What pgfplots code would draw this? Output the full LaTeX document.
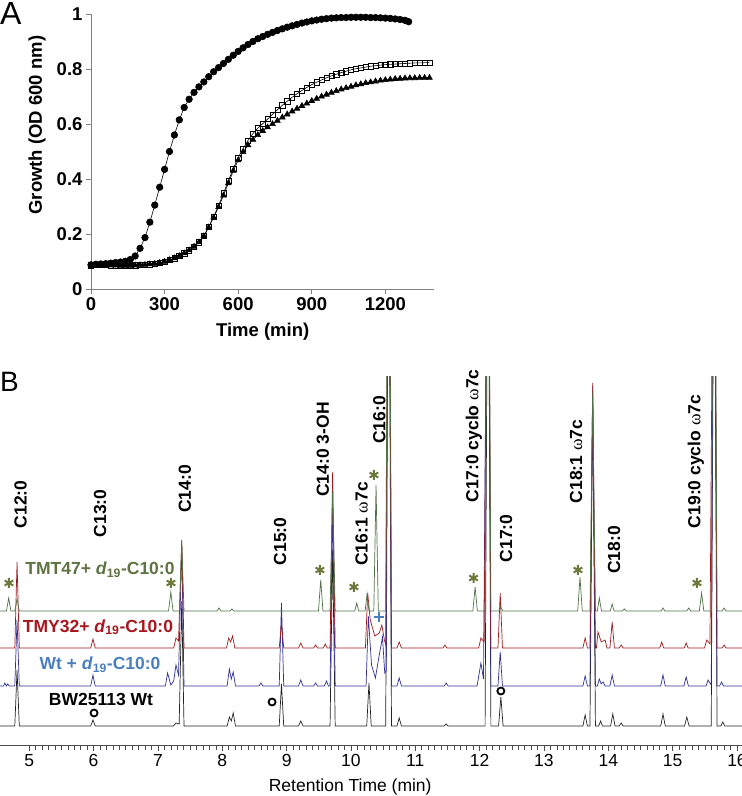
\documentclass[border=0pt]{standalone}
\usepackage{fontspec}
\setmainfont{Liberation Sans}
\newfontfamily\serifgr{Liberation Serif}
\usepackage{pgfplots}
\pgfplotsset{compat=1.18}
\definecolor{gtrace}{RGB}{80,112,70}
\definecolor{rtrace}{RGB}{158,28,32}
\definecolor{btrace}{RGB}{48,48,150}
\definecolor{ktrace}{RGB}{35,35,35}
\definecolor{glab}{RGB}{95,115,67}
\definecolor{rlab}{RGB}{168,22,30}
\definecolor{blab}{RGB}{74,126,191}
\definecolor{star}{RGB}{107,122,58}
\definecolor{axgray}{RGB}{128,128,128}
\newcommand{\om}{{\serifgr\mdseries ω}}
\newcommand{\lbl}{\bfseries\fontsize{17.5}{19}\selectfont}
\begin{document}
\begin{tikzpicture}
\useasboundingbox (0pt,0pt) rectangle (742pt,796pt);
\node[anchor=base west, inner sep=0pt, font=\fontsize{32}{32}\selectfont] at (0pt,771pt) {A};
\node[anchor=base west, inner sep=0pt, font=\fontsize{28}{28}\selectfont] at (0pt,404pt) {B};

\begin{axis}[at={(91pt,507pt)}, anchor=south west, scale only axis,
  width=343.4pt, height=275pt, xmin=0, xmax=1400, ymin=0, ymax=1,
  axis x line=bottom, axis y line=left,
  axis line style={-, axgray, line width=0.8pt},
  tick style={axgray, line width=0.8pt}, tick align=outside, major tick length=5pt,
  xtick={0,300,600,900,1200}, ytick={0,0.2,0.4,0.6,0.8,1},
  /pgf/number format/1000 sep={},
  /pgf/number format/assume math mode=true,
  ticklabel style={font=\bfseries\fontsize{18.5}{20}\selectfont},
  xlabel={Time (min)}, ylabel={Growth (OD 600 nm)},
  label style={font=\bfseries\fontsize{18.5}{20}\selectfont},
  xlabel style={at={(axis description cs:0.5,-0.156)}, anchor=center},
  ylabel style={at={(axis description cs:-0.157,0.596)}, anchor=center},
  clip=false]
\addplot[black, line width=0.6pt, mark=square, mark size=2.6pt, mark options={line width=0.5pt, fill=white}] coordinates {
(0,0.086)(20,0.087)(40,0.087)(60,0.087)(80,0.086)(100,0.086)(120,0.085)(140,0.085)(160,0.085)(180,0.086)(200,0.087)(220,0.088)(240,0.090)(260,0.092)(280,0.095)(300,0.099)(320,0.105)(340,0.112)(360,0.120)(380,0.130)(400,0.141)(420,0.154)(440,0.170)(460,0.193)(480,0.226)(500,0.263)(520,0.303)(540,0.348)(560,0.393)(580,0.438)(600,0.478)(620,0.510)(640,0.540)(660,0.565)(680,0.585)(700,0.601)(720,0.618)(740,0.635)(760,0.652)(780,0.668)(800,0.683)(820,0.697)(840,0.710)(860,0.722)(880,0.733)(900,0.743)(920,0.752)(940,0.760)(960,0.768)(980,0.775)(1000,0.781)(1020,0.787)(1040,0.792)(1060,0.797)(1080,0.801)(1100,0.804)(1120,0.807)(1140,0.810)(1160,0.812)(1180,0.814)(1200,0.816)(1220,0.817)(1240,0.818)(1260,0.819)(1280,0.820)(1300,0.821)(1320,0.822)(1340,0.822)(1360,0.823)(1380,0.823)};
\addplot[black, line width=0.6pt, mark=triangle*, mark size=3.3pt] coordinates {
(0,0.086)(20,0.087)(40,0.087)(60,0.087)(80,0.086)(100,0.086)(120,0.085)(140,0.085)(160,0.085)(180,0.086)(200,0.087)(220,0.088)(240,0.090)(260,0.092)(280,0.095)(300,0.099)(320,0.105)(340,0.112)(360,0.120)(380,0.130)(400,0.141)(420,0.154)(440,0.170)(460,0.192)(480,0.224)(500,0.260)(520,0.298)(540,0.340)(560,0.385)(580,0.430)(600,0.468)(620,0.498)(640,0.523)(660,0.543)(680,0.560)(700,0.575)(720,0.588)(740,0.600)(760,0.612)(780,0.624)(800,0.635)(820,0.646)(840,0.656)(860,0.666)(880,0.675)(900,0.684)(920,0.692)(940,0.700)(960,0.707)(980,0.714)(1000,0.720)(1020,0.726)(1040,0.731)(1060,0.736)(1080,0.741)(1100,0.745)(1120,0.749)(1140,0.752)(1160,0.755)(1180,0.758)(1200,0.760)(1220,0.762)(1240,0.764)(1260,0.765)(1280,0.766)(1300,0.767)(1320,0.767)(1340,0.768)(1360,0.768)(1380,0.768)};
\addplot[black, line width=0.6pt, mark=*, mark size=3.3pt] coordinates {
(0,0.088)(20,0.090)(40,0.091)(60,0.092)(80,0.094)(100,0.096)(120,0.098)(140,0.101)(160,0.107)(180,0.120)(200,0.148)(220,0.187)(240,0.243)(260,0.305)(280,0.370)(300,0.435)(320,0.500)(340,0.560)(360,0.615)(380,0.660)(400,0.690)(420,0.715)(440,0.735)(460,0.753)(480,0.772)(500,0.790)(520,0.805)(540,0.820)(560,0.835)(580,0.850)(600,0.864)(620,0.877)(640,0.889)(660,0.900)(680,0.910)(700,0.918)(720,0.926)(740,0.933)(760,0.940)(780,0.946)(800,0.952)(820,0.957)(840,0.962)(860,0.967)(880,0.971)(900,0.975)(920,0.978)(940,0.981)(960,0.983)(980,0.985)(1000,0.986)(1020,0.987)(1040,0.987)(1060,0.988)(1080,0.988)(1100,0.988)(1120,0.988)(1140,0.987)(1160,0.987)(1180,0.986)(1200,0.985)(1220,0.984)(1240,0.982)(1260,0.980)(1280,0.977)(1295,0.972)};
\end{axis}

\begin{axis}[at={(0pt,51pt)}, anchor=south west, scale only axis,
  width=742pt, height=368pt, xmin=4.545, xmax=16.078, ymin=0, ymax=368,
  axis x line=bottom, axis y line=none,
  axis line style={-, black!70, line width=0.8pt},
  xtick={5,6,...,16}, minor x tick num=9, ytick=\empty,
  tick align=outside, major tick length=6pt, minor tick length=5pt,
  tick style={black!70, line width=0.6pt},
  /pgf/number format/assume math mode=true,
  ticklabel style={font=\fontsize{17.5}{19}\selectfont},
  xlabel={Retention Time (min)},
  xlabel style={font=\fontsize{17.5}{19}\selectfont, at={(axis description cs:0.472,-0.114)}, anchor=center},
  clip mode=individual]
% black trace
\addplot[ktrace, line width=0.7pt] coordinates {
(4.545,19)(4.775,19)(4.81,75)(4.845,19)
(5.955,19)(5.99,25)(6.025,19)
(7.24,19)(7.28,22)(7.33,21)(7.37,144)(7.405,19)
(8.075,19)(8.11,28)(8.14,24)(8.17,32)(8.205,19)
(8.885,19)(8.92,61)(8.955,19)
(9.185,19)(9.22,24)(9.255,19)
(9.675,19)(9.715,195)(9.755,19)
(10.245,19)(10.28,62)(10.315,19)
(10.54,19)(10.585,619)(10.63,19)
(10.715,19)(10.75,27)(10.785,19)
(11.45,19)(11.48,21)(11.51,19)
(12.085,19)(12.13,619)(12.175,19)
(12.295,19)(12.33,48)(12.365,19)
(13.605,19)(13.64,30)(13.675,19)
(13.715,19)(13.757,349)(13.80,19)
(13.85,19)(13.88,24)(13.91,19)
(14.035,19)(14.07,31)(14.105,19)
(14.17,19)(14.2,22)(14.23,19)
(14.815,19)(14.85,31)(14.885,19)
(15.185,19)(15.22,28)(15.255,19)
(15.60,19)(15.645,619)(15.69,19)
(15.75,19)(15.78,23)(15.81,19)
(16.078,19)};
% blue trace
\addplot[btrace, line width=0.7pt] coordinates {
(4.545,59)(4.60,59)(4.62,62)(4.645,59)(4.665,61)(4.69,59)
(4.775,59)(4.81,125)(4.845,59)
(5.955,59)(5.99,70)(6.025,59)
(7.115,59)(7.15,72)(7.2,60)(7.245,64)(7.28,80)(7.32,70)(7.37,199)(7.405,59)
(8.075,59)(8.11,76)(8.14,66)(8.17,73)(8.205,59)
(8.57,59)(8.60,62)(8.63,59)
(8.885,59)(8.92,142)(8.955,59)
(9.185,59)(9.22,65)(9.255,59)
(9.42,59)(9.45,62)(9.48,59)
(9.585,59)(9.62,64)(9.65,59)
(9.675,59)(9.715,235)(9.755,59)
(10.235,59)(10.27,129)(10.32,80)(10.38,67)(10.44,90)(10.49,108)(10.525,72)(10.55,74)(10.585,659)(10.63,59)
(10.715,59)(10.75,67)(10.785,59)
(11.45,59)(11.48,62)(11.51,59)
(11.96,59)(12.02,82)(12.06,66)(12.13,659)(12.175,59)
(12.285,59)(12.32,93)(12.355,59)
(13.605,59)(13.64,69)(13.675,59)
(13.715,59)(13.757,359)(13.80,59)
(13.83,59)(13.86,66)(13.89,61)(13.92,63)(13.95,59)
(14.025,59)(14.06,70)(14.095,59)
(14.815,59)(14.85,70)(14.885,59)
(15.175,59)(15.21,68)(15.245,59)
(15.52,59)(15.55,65)(15.6,60)(15.645,659)(15.69,59)
(15.73,59)(15.76,63)(15.79,59)
(16.078,59)};
% red trace
\addplot[rtrace, line width=0.7pt] coordinates {
(4.545,97)(4.775,97)(4.81,183)(4.845,97)
(5.955,97)(5.99,106)(6.025,97)
(7.245,97)(7.28,107)(7.32,104)(7.37,205)(7.405,97)
(8.065,97)(8.10,107)(8.13,103)(8.16,109)(8.195,97)
(8.885,97)(8.92,122)(8.955,97)
(9.185,97)(9.22,102)(9.255,97)
(9.42,97)(9.45,100)(9.48,97)
(9.57,97)(9.6,101)(9.63,97)
(9.675,97)(9.715,273)(9.755,97)
(10.225,97)(10.26,152)(10.30,125)(10.37,109)(10.44,112)(10.48,120)(10.52,105)(10.54,100)(10.585,697)(10.63,97)
(10.715,97)(10.75,103)(10.785,97)
(11.43,97)(11.46,100)(11.49,97)
(11.985,97)(12.02,107)(12.07,103)(12.13,697)(12.175,97)
(12.285,97)(12.32,152)(12.355,97)
(13.605,97)(13.64,107)(13.675,97)
(13.715,97)(13.757,362)(13.80,97)
(13.815,97)(13.84,113)(13.89,103)(13.95,105)(13.98,97)
(14.025,97)(14.06,123)(14.095,97)
(14.17,97)(14.2,100)(14.23,97)
(14.80,97)(14.83,103)(14.86,97)
(15.18,97)(15.21,102)(15.24,97)
(15.495,97)(15.53,105)(15.58,101)(15.645,697)(15.69,97)
(15.77,97)(15.8,100)(15.83,97)
(16.078,97)};
% green trace
\addplot[gtrace, line width=0.7pt] coordinates {
(4.545,134)(4.645,134)(4.68,147)(4.715,134)
(4.775,134)(4.81,146)(4.845,134)
(7.165,134)(7.2,153)(7.235,134)
(7.335,134)(7.37,204)(7.405,134)
(7.92,134)(7.95,137)(7.98,134)
(8.12,134)(8.15,136)(8.18,134)
(9.495,134)(9.53,165)(9.565,134)
(9.675,134)(9.715,254)(9.755,134)
(10.06,134)(10.09,142)(10.12,134)
(10.22,134)(10.25,151)(10.28,134)
(10.355,134)(10.39,260)(10.425,134)
(10.54,134)(10.585,734)(10.63,134)
(11.895,134)(11.93,158)(11.965,134)
(12.085,134)(12.13,734)(12.175,134)
(12.30,134)(12.33,138)(12.36,134)
(13.525,134)(13.56,168)(13.595,134)
(13.715,134)(13.757,354)(13.80,134)
(13.83,134)(13.86,147)(13.895,134)
(14.03,134)(14.06,141)(14.09,134)
(14.22,134)(14.25,136)(14.28,134)
(14.82,134)(14.85,137)(14.88,134)
(15.22,134)(15.25,137)(15.28,134)
(15.415,134)(15.45,152)(15.485,134)
(15.60,134)(15.645,734)(15.69,134)
(15.77,134)(15.8,137)(15.83,134)
(16.078,134)};
% markers
\addplot[only marks, mark=asterisk, mark size=5pt, mark options={line width=2pt, color=star}] coordinates {
(4.684,162)(7.202,162)(9.517,175)(10.046,158)(10.357,270)(11.905,167)(13.528,175)(15.378,162)};
\addplot[only marks, mark=+, mark size=5pt, mark options={line width=2.2pt, color=blab}] coordinates {(10.437,128)};
\addplot[only marks, mark=o, mark size=3.5pt, mark options={line width=1.8pt, color=black}] coordinates {(6.007,32)(8.774,43)(12.33,54)};
% peak labels
\node[rotate=90, font=\lbl] at (axis cs:4.866,240.5) {C12:0};
\node[rotate=90, font=\lbl] at (axis cs:6.100,231.5) {C13:0};
\node[rotate=90, font=\lbl] at (axis cs:7.420,256) {C14:0};
\node[rotate=90, font=\lbl] at (axis cs:8.897,203.5) {C15:0};
\node[rotate=90, font=\lbl] at (axis cs:9.565,295.5) {C14:0 3-OH};
\node[rotate=90, font=\lbl] at (axis cs:10.166,221) {C16:1 \om7c};
\node[rotate=90, font=\lbl] at (axis cs:10.440,325) {C16:0};
\node[rotate=90, font=\lbl] at (axis cs:11.910,309) {C17:0 cyclo \om7c};
\node[rotate=90, font=\lbl] at (axis cs:12.410,206.5) {C17:0};
\node[rotate=90, font=\lbl] at (axis cs:13.500,283.5) {C18:1 \om7c};
\node[rotate=90, font=\lbl] at (axis cs:14.090,195) {C18:0};
\node[rotate=90, font=\lbl] at (axis cs:15.360,283.5) {C19:0 cyclo \om7c};
% series labels
\node[anchor=base, text=glab, font=\lbl] at (axis cs:6.099,170) {TMT47+ \textit{d}\textsubscript{19}-C10:0};
\node[anchor=base, text=rlab, font=\lbl] at (axis cs:6.068,113) {TMY32+ \textit{d}\textsubscript{19}-C10:0};
\node[anchor=base, text=blab, font=\lbl] at (axis cs:6.099,75) {Wt + \textit{d}\textsubscript{19}-C10:0};
\node[anchor=base, text=black, font=\lbl] at (axis cs:6.114,40) {BW25113 Wt};
\end{axis}
\end{tikzpicture}
\end{document}
